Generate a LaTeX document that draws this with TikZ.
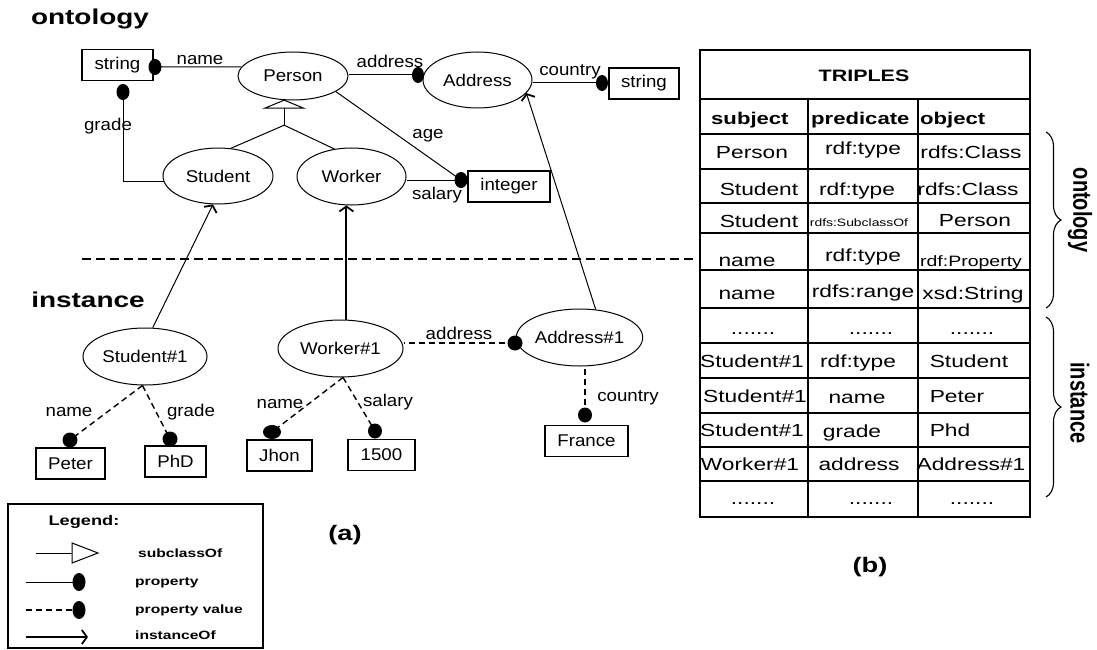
\documentclass[tikz,border=0pt]{standalone}
\usepackage{fontspec}
\setmainfont{Liberation Sans}
\newfontfamily\dfont[FakeStretch=1.1]{Liberation Sans}
\newfontfamily\tfont[FakeStretch=1.3]{Liberation Sans}
\usetikzlibrary{shapes.geometric,arrows.meta,decorations.pathreplacing}
\tikzset{
 ln/.style={line width=1pt},
 ell/.style={ellipse, draw, line width=1pt, inner sep=0pt, font=\dfont\fontsize{17}{20}\selectfont},
 vbox/.style={rectangle, draw, line width=1.1pt, inner sep=0pt, minimum height=31pt, font=\dfont\fontsize{17}{20}\selectfont},
 blob/.style={ellipse, fill=black, inner sep=0pt, minimum width=13pt, minimum height=16pt},
 dlbl/.style={inner sep=0pt, font=\dfont\fontsize{17}{20}\selectfont, text height=12pt, text depth=0pt},
 pv/.style={line width=1.4pt, dash pattern=on 6pt off 4pt},
 inst/.style={-{Straight Barb[length=5pt,width=14pt,line width=1.8pt]}},
 title/.style={inner sep=0pt, font=\tfont\bfseries\fontsize{21.5}{24}\selectfont},
 tcell/.style={inner sep=0pt, font=\tfont\fontsize{17.5}{20}\selectfont, text height=12.5pt, text depth=0pt},
 tsmall/.style={tcell, font=\tfont\fontsize{15}{18}\selectfont},
 thead/.style={inner sep=0pt, anchor=west, font=\tfont\bfseries\fontsize{17}{20}\selectfont, text height=12.2pt, text depth=0pt},
 tdots/.style={inner sep=0pt, anchor=base, font=\tfont\fontsize{17.5}{20}\selectfont},
 leg/.style={inner sep=0pt, anchor=west, font=\tfont\bfseries\fontsize{12}{14}\selectfont, text height=8.6pt, text depth=0pt},
 tline/.style={line width=1.1pt},
}
\begin{document}
\begin{tikzpicture}[x=1pt,y=-1pt]
\useasboundingbox (0,0) rectangle (1097,650);

% titles
\node[title] (tont) at (90,19) {ontology};
\node[title] (tinst) at (88,300) {instance};

% ontology nodes
\node[vbox, minimum width=71pt] (str1) at (117.5,65) {string};
\node[ell, minimum width=110pt, minimum height=48pt] (person) at (293,76) {Person};
\node[ell, minimum width=109pt, minimum height=56pt] (address) at (477.5,80) {Address};
\node[vbox, minimum width=70pt] (str2) at (644,83.5) {string};
\node[ell, minimum width=110pt, minimum height=56pt] (student) at (218,176) {Student};
\node[ell, minimum width=109pt, minimum height=57pt] (worker) at (351.5,176.5) {Worker};
\node[vbox, minimum width=82pt] (integer) at (509,186.5) {integer};

% instance nodes
\node[ell, minimum width=124pt, minimum height=57pt] (s1) at (145,356.5) {Student\#1};
\node[ell, minimum width=125pt, minimum height=57pt] (w1) at (340.5,348.5) {Worker\#1};
\node[ell, minimum width=125pt, minimum height=57pt] (a1) at (579.5,337.5) {Address\#1};
\node[vbox, minimum width=69pt] (peter) at (70.5,463.5) {Peter};
\node[vbox, minimum width=61pt] (phd) at (175.5,461.5) {PhD};
\node[vbox, minimum width=65pt] (jhon) at (279.5,455.5) {Jhon};
\node[vbox, minimum width=67pt] (v1500) at (381.5,455) {1500};
\node[vbox, minimum width=83pt] (france) at (586.5,441) {France};

% property dots
\node[blob] (dname) at (155,67) {};
\node[blob] (dgrade) at (123,92) {};
\node[blob, minimum width=12pt] (daddr) at (418,75) {};
\node[blob, minimum width=12pt] (dcountry) at (602,83) {};
\node[blob] (dint) at (461,180) {};
\node[blob, minimum width=15pt, minimum height=15pt] (pvpeter) at (70,440) {};
\node[blob, minimum width=15pt, minimum height=15pt] (pvphd) at (170,439) {};
\node[blob, minimum width=18pt, minimum height=14pt] (pvjhon) at (272,432) {};
\node[blob, minimum width=14pt, minimum height=15pt] (pv1500) at (375,431) {};
\node[blob, minimum width=15pt, minimum height=15pt] (pvaddr) at (515,343) {};
\node[blob, minimum width=14pt, minimum height=15pt] (pvfrance) at (585,415) {};

% ontology properties
\draw[ln] (person.170) -- (dname.center);
\draw[ln] (student.186) -| (dgrade.center);
\draw[ln] (daddr.center) -- (daddr -| person.east);
\draw[ln] (dcountry.center) -- (dcountry -| address.east);
\draw[ln] (person.-20) -- (dint.center);
\draw[ln] (dint.center) -- (dint -| worker.east);

% subclass
\coordinate (apex) at (person.-110);
\draw[ln, fill=white] (apex) -- ++(-19.5,8) -- ++(39,0) -- cycle;
\coordinate (jtop) at ([yshift=-8pt]apex);
\coordinate (junc) at ([yshift=-25pt]apex);
\draw[ln] (jtop) -- (junc);
\draw[ln] (junc) -- (student.65);
\draw[ln] (junc) -- (worker.122);

% property labels
\node[dlbl] (lname) at (200,59) {name};
\node[dlbl] (lgrade) at (108,125) {grade};
\node[dlbl] (laddr) at (390,62) {address};
\node[dlbl] (lcountry) at (570,70) {country};
\node[dlbl] (lage) at (428,133) {age};
\node[dlbl] (lsalary) at (437,193) {salary};

% separator
\coordinate (sepL) at (82,259);
\coordinate (sepR) at (693,259);
\draw[line width=1.8pt, dash pattern=on 9pt off 5pt] (sepL) -- (sepR);

% instanceOf
\draw[ln, inst] (s1.75) -- (student.-100);
\draw[line width=2pt, inst] (w1.north -| worker.-100) -- (worker.-100);
\draw[ln, inst] (a1.60) -- (address.-15);

% property values
\draw[pv] (s1.-95) -- (pvpeter.center);
\draw[pv] (s1.-95) -- (pvphd.center);
\draw[pv] (w1.-85) -- (pvjhon.center);
\draw[pv] (w1.-85) -- (pv1500.center);
\draw[pv] (pvaddr.center) -- (pvaddr -| w1.east);
\draw[pv] (pvfrance.center) -- (pvfrance |- a1.south);

\node[dlbl] (iname1) at (69,410) {name};
\node[dlbl] (igrade) at (191,410) {grade};
\node[dlbl] (iname2) at (280,402) {name};
\node[dlbl] (isalary) at (388,400) {salary};
\node[dlbl] (iaddr) at (459,333) {address};
\node[dlbl] (icountry) at (628,395) {country};

% legend
\node[draw, line width=1.3pt, minimum width=255pt, minimum height=144pt, inner sep=0pt] (legend) at (135.5,576) {};
\node[inner sep=0pt, font=\tfont\bfseries\fontsize{14}{16}\selectfont] (legtitle) at (84,522) {Legend:};
\coordinate (l1a) at (36,553);
\coordinate (l1b) at (72,553);
\draw[ln] (l1a) -- (l1b);
\draw[ln] (l1b) ++(0,-10) -- ++(26,10) -- ++(-26,10) -- cycle;
\node[leg] (lsub) at (138,553) {subclassOf};
\node[blob, minimum width=13pt, minimum height=18pt] (ld1) at (79,582) {};
\coordinate (l2a) at (26,582);
\draw[ln] (l2a) -- (ld1.center);
\node[leg] (lprop) at (135,581) {property};
\node[blob, minimum width=13pt, minimum height=18pt] (ld2) at (79,610) {};
\coordinate (l3a) at (26,610);
\draw[pv] (l3a) -- (ld2.center);
\node[leg] (lpv) at (135,609) {property value};
\coordinate (l4a) at (26,637);
\coordinate (l4b) at (88,637);
\draw[line width=2pt, inst] (l4a) -- (l4b);
\node[leg] (linst) at (135,635) {instanceOf};

\node[title, font=\tfont\bfseries\fontsize{21}{24}\selectfont] (capa) at (345,535) {(a)};
\node[title, font=\tfont\bfseries\fontsize{21}{24}\selectfont] (capb) at (870,567) {(b)};

% table
\draw[line width=2.5pt] (700,50) rectangle (1030,517);
\draw[line width=2pt] (700,99) -- (1030,99);
\foreach \yy in {134,169,203,233,270,308,343,378,413,447,481} \draw[tline] (700,\yy) -- (1030,\yy);
\draw[tline] (808,99) -- (808,517);
\draw[tline] (918,99) -- (918,517);

\node[inner sep=0pt, font=\tfont\bfseries\fontsize{16.5}{20}\selectfont] (triples) at (864,76) {TRIPLES};
\node[thead] (hs) at (711,118) {subject};
\node[thead] (hp) at (811,118) {predicate};
\node[thead] (ho) at (920,118) {object};

\node[tcell] (c11) at (752,152) {Person};
\node[tcell] (c12) at (863,148) {rdf:type};
\node[tcell] (c13) at (971,152) {rdfs:Class};
\node[tcell] (c21) at (759,189) {Student};
\node[tcell] (c22) at (857,189) {rdf:type};
\node[tcell] (c23) at (968,189) {rdfs:Class};
\node[tcell] (c31) at (759,221) {Student};
\node[tcell, font=\tfont\fontsize{10.7}{12}\selectfont, text height=7.7pt] (c32) at (859,223) {rdfs:SubclassOf};
\node[tcell] (c33) at (975,220) {Person};
\node[tcell] (c41) at (747,260) {name};
\node[tcell] (c42) at (863,255) {rdf:type};
\node[tsmall, text height=10.7pt] (c43) at (971,261) {rdf:Property};
\node[tcell] (c51) at (747,293) {name};
\node[tcell] (c52) at (863,291) {rdfs:range};
\node[tcell] (c53) at (973,293) {xsd:String};
\node[tdots] (c61) at (753,334) {.......};
\node[tdots] (c62) at (871,334) {.......};
\node[tdots] (c63) at (972,334) {.......};
\node[tcell] (c71) at (752,361) {Student\#1};
\node[tcell] (c72) at (858,361) {rdf:type};
\node[tcell] (c73) at (969,361) {Student};
\node[tcell] (c81) at (755,396) {Student\#1};
\node[tcell] (c82) at (857,397) {name};
\node[tcell] (c83) at (957,396) {Peter};
\node[tcell] (c91) at (752,430) {Student\#1};
\node[tcell] (c92) at (852,431) {grade};
\node[tcell] (c93) at (950,430) {Phd};
\node[tcell] (c101) at (750,464) {Worker\#1};
\node[tcell] (c102) at (859,464) {address};
\node[tcell] (c103) at (971,464) {Address\#1};
\node[tdots] (c111) at (753,504) {.......};
\node[tdots] (c112) at (871,504) {.......};
\node[tdots] (c113) at (972,504) {.......};

% braces
\draw[line width=1.1pt, decorate, decoration={brace, amplitude=15pt}] (1046,132) -- (1046,308);
\draw[line width=1.1pt, decorate, decoration={brace, amplitude=15pt}] (1046,317) -- (1046,497);
\node[rotate=-90, inner sep=0pt] (bont) at (1080,210) {\scalebox{1}[1.3]{\bfseries\fontsize{20}{24}\selectfont ontology}};
\node[rotate=-90, inner sep=0pt] (binst) at (1080,403) {\scalebox{1}[1.3]{\bfseries\fontsize{20}{24}\selectfont instance}};
\end{tikzpicture}
\end{document}
